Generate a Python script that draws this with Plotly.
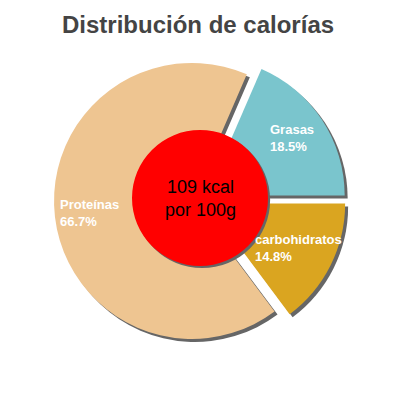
import plotly.graph_objects as go

labels = ['Grasas', 'Proteínas', 'carbohidratos']
values = [18.5, 66.7, 14.8]
percents = ['18.5%', '66.7%', '14.8%']
colors = ['#7AC5CD', '#EEC591', '#DAA520']
center_text = '109 kcal<br>por 100g'
title_text = 'Distribución de calorías'

# label anchor points (paper coords), left aligned
label_pos = [(0.664, 0.668), (0.128, 0.478), (0.625, 0.3865)]

W = 392  # page has an 8px body margin
pull = [0.058] * len(values)
dom_x = [0.1173, 0.8622]
dom_y = [0.1378, 0.8827]
sh = 3 / W  # shadow offset

# ccw pies put the first slice clockwise of `rotation`, so shift it
rot = 90 - 360 * values[0] / sum(values)

fig = go.Figure()

# shadow
fig.add_trace(go.Pie(
    labels=labels, values=values, sort=False, direction='counterclockwise',
    rotation=rot, pull=pull, textinfo='none', hoverinfo='skip',
    marker=dict(colors=['#666666'] * 3, line=dict(width=0)),
    domain=dict(x=[dom_x[0] + sh, dom_x[1] + sh], y=[dom_y[0] - sh, dom_y[1] - sh]),
    showlegend=False,
))

fig.add_trace(go.Pie(
    labels=labels, values=values, sort=False, direction='counterclockwise',
    rotation=rot, pull=pull, textinfo='none',
    marker=dict(colors=colors, line=dict(width=0)),
    domain=dict(x=dom_x, y=dom_y),
    showlegend=False,
))

r = 68 / W
cx, cy = 0.4898, 0.5153
fig.add_shape(type='circle', xref='paper', yref='paper',
              x0=cx - r + sh * 0.7, x1=cx + r + sh * 0.7, y0=cy - r - sh * 0.7, y1=cy + r - sh * 0.7,
              fillcolor='#666666', line=dict(width=0))
fig.add_shape(type='circle', xref='paper', yref='paper',
              x0=cx - r, x1=cx + r, y0=cy - r, y1=cy + r,
              fillcolor='#FF0000', line=dict(width=0))

fig.add_annotation(x=cx, y=0.5128, xref='paper', yref='paper', text=center_text,
                   showarrow=False, yanchor='middle',
                   font=dict(family='Liberation Sans, Arial', size=18, color='black'))

for (lx, ly), lab, pct in zip(label_pos, labels, percents):
    fig.add_annotation(x=lx, y=ly, xref='paper', yref='paper', text=f'<b>{lab}<br>{pct}</b>',
                       showarrow=False, xanchor='left', yanchor='middle', align='left',
                       font=dict(family='Liberation Sans, Arial', size=13, color='white'))

fig.add_annotation(x=0.4847, y=0.959, xref='paper', yref='paper', text=f'<b>{title_text}</b>',
                   showarrow=False, yanchor='middle', borderpad=0,
                   font=dict(family='Liberation Sans, Arial', size=24, color='#444444'))

fig.update_layout(
    width=W, height=W,
    margin=dict(l=0, r=0, t=0, b=0),
    paper_bgcolor='white',
)

fig.write_html('out.html')
